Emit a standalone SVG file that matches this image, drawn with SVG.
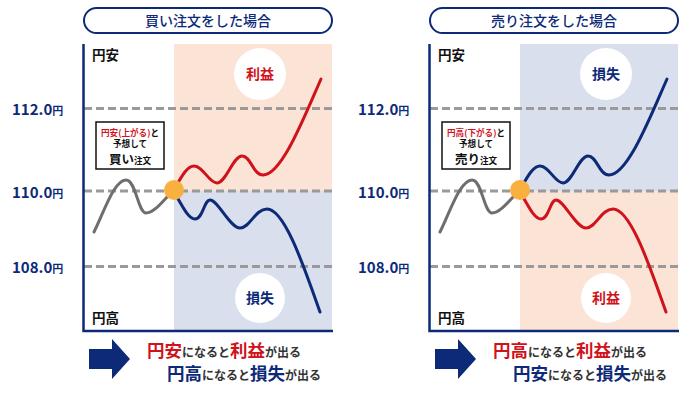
<svg xmlns="http://www.w3.org/2000/svg" width="700" height="394" viewBox="0 0 700 394">
<style>
text{font-family:"Noto Sans CJK JP","Noto Sans",sans-serif;}
.pill{fill:#fff;stroke:#0d2a78;stroke-width:2;}
.title{font-size:14px;fill:#0d2a78;text-anchor:middle;font-weight:500;}
.axis{fill:none;stroke:#0d2a78;stroke-width:2.5;}
.dash{stroke:#9a9a9a;stroke-width:3;stroke-dasharray:8 4;fill:none;}
.peach{fill:#fbe4d6;}
.blue{fill:#d9dfec;}
.ylab{font-size:15px;font-weight:700;fill:#0d2a78;}
.ylab tspan{font-size:11px;}
.corner{font-size:13.5px;font-weight:700;fill:#111;}
.circ{fill:#fff;}
.ctr{font-size:14px;font-weight:700;text-anchor:middle;}
.red{fill:#d0121b;}
.nav{fill:#0d2a78;}
.gray{fill:none;stroke:#6e6e6e;stroke-width:3;stroke-linecap:round;}
.lr{fill:none;stroke:#d0121b;stroke-width:3;stroke-linecap:round;}
.lb{fill:none;stroke:#0d2a78;stroke-width:3;stroke-linecap:round;}
.dot{fill:#f8b040;}
.box{fill:#fff;stroke:#111;stroke-width:1.5;}
.bt{font-size:8.6px;font-weight:700;fill:#111;text-anchor:middle;}
.big{font-size:12.5px;}
.arrow{fill:#0d2a78;}
.bl{font-weight:700;font-size:12px;fill:#333;}
.bl .k{font-size:17.5px;}
</style>

<g id="left-panel">
  <g id="left-title">
    <rect class="pill" x="84" y="8" width="248" height="25" rx="12.5"/>
    <text class="title" x="208" y="26">買い注文をした場合</text>
  </g>
  <rect class="peach" x="174" y="44" width="158" height="147"/>
  <rect class="blue" x="174" y="191" width="158" height="140"/>
  <g id="left-grid">
    <line class="dash" x1="84" y1="108.5" x2="333" y2="108.5"/>
    <line class="dash" x1="84" y1="191" x2="333" y2="191"/>
    <line class="dash" x1="84" y1="266.5" x2="333" y2="266.5"/>
  </g>
  <path class="axis" d="M83.5,44 V331 H333"/>
  <g id="left-ylabels">
    <text class="ylab" x="12" y="115">112.0<tspan>円</tspan></text>
    <text class="ylab" x="12" y="198">110.0<tspan>円</tspan></text>
    <text class="ylab" x="12" y="273">108.0<tspan>円</tspan></text>
  </g>
  <text class="corner" x="92" y="60">円安</text>
  <text class="corner" x="92" y="323">円高</text>
  <g id="left-profit">
    <circle class="circ" cx="260" cy="74" r="26"/>
    <text class="ctr red" x="260" y="79">利益</text>
  </g>
  <g id="left-loss">
    <circle class="circ" cx="260" cy="298" r="25"/>
    <text class="ctr nav" x="260" y="303">損失</text>
  </g>
  <g id="left-lines">
    <path class="gray" d="M94,232 C104,212 114,180 126,180 C136,180 138,213 146,213 C155,213 165,198 173,191"/>
    <path class="lr" d="M173,191 C180,180 186,166 194,166 C203,166 209,183 217,183 C226,183 233,156 242,156 C251,156 253,175 263,175 C282,175 305,115 321,79"/>
    <path class="lb" d="M173,191 C180,200 187,219 195,219 C203,219 204,200 210,200 C218,200 230,228 240,228 C250,228 255,209 267,209 C285,209 305,270 320,312"/>
  </g>
  <circle class="dot" cx="174" cy="190" r="10"/>
  <g id="left-note">
    <rect class="box" x="96" y="122" width="68" height="47"/>
    <text class="bt" x="130" y="135.5"><tspan class="red">円安(上がる)</tspan>と</text>
    <text class="bt" x="130" y="147">予想して</text>
    <text class="bt" x="130" y="164"><tspan class="big">買い</tspan>注文</text>
  </g>
  <g id="left-summary">
    <polygon class="arrow" points="89,349 112,349 112,339 130,359 112,379 112,369 89,369"/>
    <text class="bl" x="147" y="357"><tspan class="k red">円安</tspan>になると<tspan class="k red">利益</tspan>が出る</text>
    <text class="bl" x="167" y="380"><tspan class="k nav">円高</tspan>になると<tspan class="k nav">損失</tspan>が出る</text>
  </g>
</g>

<g id="right-panel" transform="translate(346,0)">
  <g id="right-title">
    <rect class="pill" x="84" y="8" width="248" height="25" rx="12.5"/>
    <text class="title" x="208" y="26">売り注文をした場合</text>
  </g>
  <rect class="blue" x="174" y="44" width="158" height="147"/>
  <rect class="peach" x="174" y="191" width="158" height="140"/>
  <g id="right-grid">
    <line class="dash" x1="84" y1="108.5" x2="333" y2="108.5"/>
    <line class="dash" x1="84" y1="191" x2="333" y2="191"/>
    <line class="dash" x1="84" y1="266.5" x2="333" y2="266.5"/>
  </g>
  <path class="axis" d="M83.5,44 V331 H333"/>
  <g id="right-ylabels">
    <text class="ylab" x="12" y="115">112.0<tspan>円</tspan></text>
    <text class="ylab" x="12" y="198">110.0<tspan>円</tspan></text>
    <text class="ylab" x="12" y="273">108.0<tspan>円</tspan></text>
  </g>
  <text class="corner" x="92" y="60">円安</text>
  <text class="corner" x="92" y="323">円高</text>
  <g id="right-loss">
    <circle class="circ" cx="260" cy="74" r="26"/>
    <text class="ctr nav" x="260" y="79">損失</text>
  </g>
  <g id="right-profit">
    <circle class="circ" cx="260" cy="298" r="25"/>
    <text class="ctr red" x="260" y="303">利益</text>
  </g>
  <g id="right-lines">
    <path class="gray" d="M94,232 C104,212 114,180 126,180 C136,180 138,213 146,213 C155,213 165,198 173,191"/>
    <path class="lb" d="M173,191 C180,180 186,166 194,166 C203,166 209,183 217,183 C226,183 233,156 242,156 C251,156 253,175 263,175 C282,175 305,115 321,79"/>
    <path class="lr" d="M173,191 C180,200 187,219 195,219 C203,219 204,200 210,200 C218,200 230,228 240,228 C250,228 255,209 267,209 C285,209 305,270 320,312"/>
  </g>
  <circle class="dot" cx="174" cy="190" r="10"/>
  <g id="right-note">
    <rect class="box" x="96" y="122" width="68" height="47"/>
    <text class="bt" x="130" y="135.5"><tspan class="red">円高(下がる)</tspan>と</text>
    <text class="bt" x="130" y="147">予想して</text>
    <text class="bt" x="130" y="164"><tspan class="big">売り</tspan>注文</text>
  </g>
  <g id="right-summary">
    <polygon class="arrow" points="89,349 112,349 112,339 130,359 112,379 112,369 89,369"/>
    <text class="bl" x="147" y="357"><tspan class="k red">円高</tspan>になると<tspan class="k red">利益</tspan>が出る</text>
    <text class="bl" x="167" y="380"><tspan class="k nav">円安</tspan>になると<tspan class="k nav">損失</tspan>が出る</text>
  </g>
</g>
</svg>
